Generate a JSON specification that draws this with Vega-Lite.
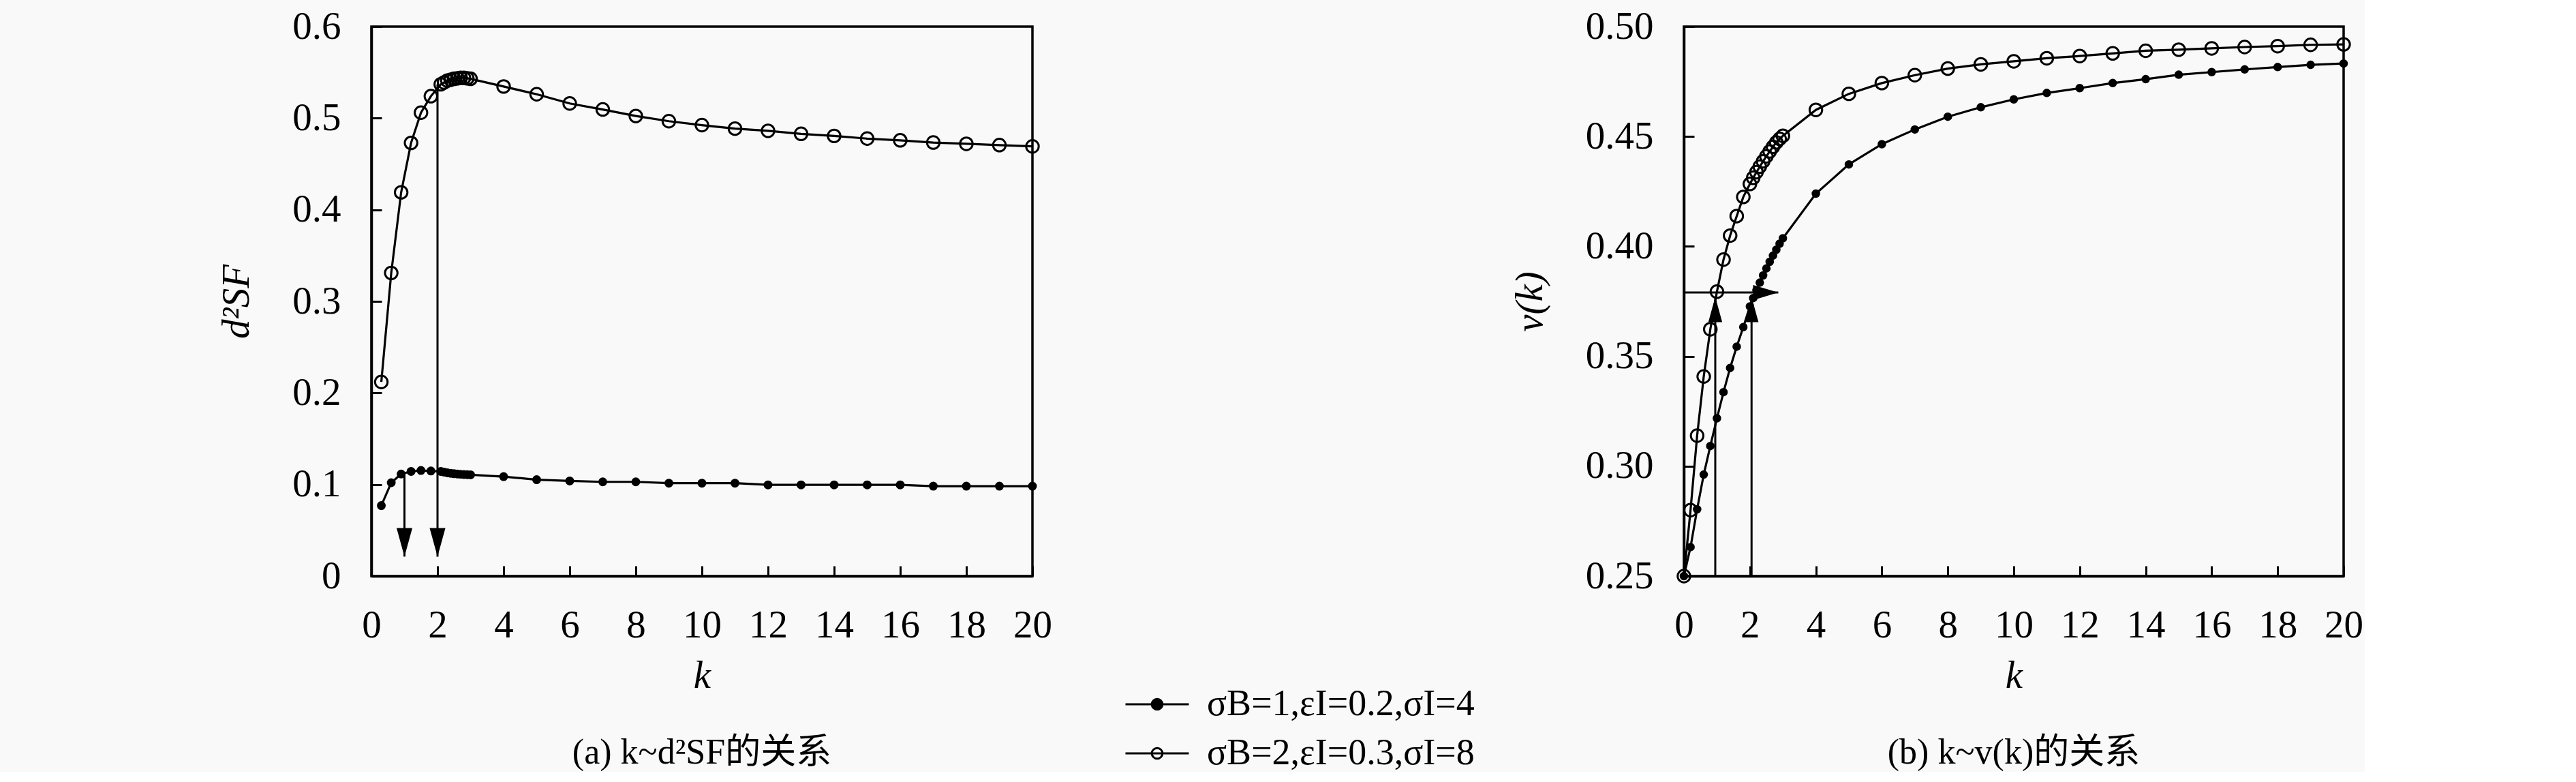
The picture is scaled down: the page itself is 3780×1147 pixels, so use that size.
{
  "$schema": "https://vega.github.io/schema/vega-lite/v6.json",
  "background": "#f9f9f9",
  "padding": {"left": 317, "top": 8, "right": 0, "bottom": 0},
  "spacing": 668,
  "datasets": {
    "a": [
      {"k": 0.3, "A": 0.077, "B": 0.212},
      {"k": 0.6, "A": 0.102, "B": 0.331},
      {"k": 0.9, "A": 0.1115, "B": 0.419},
      {"k": 1.2, "A": 0.1143, "B": 0.473},
      {"k": 1.5, "A": 0.1153, "B": 0.506},
      {"k": 1.8, "A": 0.1148, "B": 0.524},
      {"k": 2.1, "A": 0.1143, "B": 0.537},
      {"k": 2.2, "A": 0.1135, "B": 0.539},
      {"k": 2.3, "A": 0.1128, "B": 0.541},
      {"k": 2.4, "A": 0.1122, "B": 0.542},
      {"k": 2.5, "A": 0.1118, "B": 0.543},
      {"k": 2.6, "A": 0.1115, "B": 0.5435},
      {"k": 2.7, "A": 0.1112, "B": 0.544},
      {"k": 2.8, "A": 0.111, "B": 0.544},
      {"k": 2.9, "A": 0.1108, "B": 0.5435},
      {"k": 3.0, "A": 0.1106, "B": 0.543},
      {"k": 4, "A": 0.1086, "B": 0.5346},
      {"k": 5, "A": 0.1053, "B": 0.5261},
      {"k": 6, "A": 0.1039, "B": 0.5161},
      {"k": 7, "A": 0.1029, "B": 0.5095},
      {"k": 8, "A": 0.1029, "B": 0.5024},
      {"k": 9, "A": 0.1015, "B": 0.4967},
      {"k": 10, "A": 0.1015, "B": 0.4924},
      {"k": 11, "A": 0.1015, "B": 0.4886},
      {"k": 12, "A": 0.0996, "B": 0.4862},
      {"k": 13, "A": 0.0996, "B": 0.4829},
      {"k": 14, "A": 0.0996, "B": 0.4806},
      {"k": 15, "A": 0.0996, "B": 0.4777},
      {"k": 16, "A": 0.0996, "B": 0.4758},
      {"k": 17, "A": 0.0982, "B": 0.4734},
      {"k": 18, "A": 0.0982, "B": 0.472},
      {"k": 19, "A": 0.0982, "B": 0.4706},
      {"k": 20, "A": 0.0982, "B": 0.4692}
    ],
    "b": [
      {"k": 0, "A": 0.25, "B": 0.25},
      {"k": 0.2, "A": 0.2632, "B": 0.28},
      {"k": 0.4, "A": 0.2804, "B": 0.3139},
      {"k": 0.6, "A": 0.2962, "B": 0.3408},
      {"k": 0.8, "A": 0.3092, "B": 0.3623},
      {"k": 1.0, "A": 0.3218, "B": 0.3794},
      {"k": 1.2, "A": 0.3337, "B": 0.394},
      {"k": 1.4, "A": 0.3447, "B": 0.4049},
      {"k": 1.6, "A": 0.3544, "B": 0.4138},
      {"k": 1.8, "A": 0.3633, "B": 0.4225},
      {"k": 2.0, "A": 0.3727, "B": 0.4284},
      {"k": 2.1, "A": 0.3765, "B": 0.4312},
      {"k": 2.2, "A": 0.38, "B": 0.4338},
      {"k": 2.3, "A": 0.3835, "B": 0.4363},
      {"k": 2.4, "A": 0.3868, "B": 0.4387},
      {"k": 2.5, "A": 0.39, "B": 0.441},
      {"k": 2.6, "A": 0.393, "B": 0.4432},
      {"k": 2.7, "A": 0.3958, "B": 0.4453},
      {"k": 2.8, "A": 0.3985, "B": 0.4473},
      {"k": 2.9, "A": 0.4012, "B": 0.4489},
      {"k": 3.0, "A": 0.4037, "B": 0.4503},
      {"k": 4, "A": 0.424, "B": 0.4621},
      {"k": 5, "A": 0.4373, "B": 0.4694},
      {"k": 6, "A": 0.4465, "B": 0.4743},
      {"k": 7, "A": 0.4532, "B": 0.4779},
      {"k": 8, "A": 0.459, "B": 0.4809},
      {"k": 9, "A": 0.4633, "B": 0.4828},
      {"k": 10, "A": 0.4669, "B": 0.4842},
      {"k": 11, "A": 0.4698, "B": 0.4856},
      {"k": 12, "A": 0.472, "B": 0.4866},
      {"k": 13, "A": 0.4743, "B": 0.4878},
      {"k": 14, "A": 0.4761, "B": 0.489},
      {"k": 15, "A": 0.4781, "B": 0.4895},
      {"k": 16, "A": 0.4793, "B": 0.4901},
      {"k": 17, "A": 0.4805, "B": 0.4907},
      {"k": 18, "A": 0.4816, "B": 0.4911},
      {"k": 19, "A": 0.4826, "B": 0.4917},
      {"k": 20, "A": 0.4832, "B": 0.4919}
    ],
    "arrA": [
      {"k": 1, "y": 0.112, "y2": 0.0213},
      {"k": 2, "y": 0.537, "y2": 0.0213}
    ],
    "arrBv": [
      {"k": 0.95, "y": 0.25, "y2": 0.377},
      {"k": 2.05, "y": 0.25, "y2": 0.377}
    ],
    "arrBh": [
      {"k": 0, "k2": 2.86, "y": 0.379}
    ]
  },
  "hconcat": [
    {
      "width": 970,
      "height": 806,
      "title": {"text": "(a) k~d²SF的关系", "orient": "bottom"},
      "layer": [
        {
          "data": {"name": "a"},
          "transform": [{"fold": ["A", "B"], "as": ["s", "y"]}],
          "mark": {"type": "line", "stroke": "black", "strokeWidth": 3.2},
          "encoding": {
            "x": {"field": "k", "type": "quantitative", "title": "k", "scale": {"domain": [0, 20], "nice": false}, "axis": {"values": [0, 2, 4, 6, 8, 10, 12, 14, 16, 18, 20]}},
            "y": {"field": "y", "type": "quantitative", "title": "d²SF", "scale": {"domain": [0, 0.6], "nice": false}, "axis": {"values": [0, 0.1, 0.2, 0.3, 0.4, 0.5, 0.6], "format": ".1~f"}},
            "detail": {"field": "s"}
          }
        },
        {
          "data": {"name": "a"},
          "transform": [{"fold": ["A", "B"], "as": ["s", "y"]}, {"filter": "datum.s == 'A'"}],
          "mark": {"type": "point", "shape": "circle", "filled": true, "stroke": "black", "strokeWidth": 2.5, "opacity": 1, "size": 110},
          "encoding": {
            "x": {"field": "k", "type": "quantitative", "title": "k"},
            "y": {"field": "y", "type": "quantitative", "title": "d²SF"},
            "fill": {"field": "s", "type": "nominal", "scale": {"domain": ["A", "B"], "range": ["black", "transparent"]},
              "legend": {"title": null, "orient": "none", "legendX": 1126, "legendY": 967, "labelExpr": "datum.value == 'A' ? 'σB=1,εI=0.2,σI=4' : 'σB=2,εI=0.3,σI=8'"}}
          }
        },
        {
          "data": {"name": "a"},
          "transform": [{"fold": ["A", "B"], "as": ["s", "y"]}, {"filter": "datum.s == 'B'"}],
          "mark": {"type": "point", "shape": "circle", "filled": true, "stroke": "black", "strokeWidth": 3, "opacity": 1, "size": 340},
          "encoding": {
            "x": {"field": "k", "type": "quantitative", "title": "k"},
            "y": {"field": "y", "type": "quantitative", "title": "d²SF"},
            "fill": {"field": "s", "type": "nominal", "scale": {"domain": ["A", "B"], "range": ["black", "transparent"]},
              "legend": {"title": null, "orient": "none", "legendX": 1126, "legendY": 967, "labelExpr": "datum.value == 'A' ? 'σB=1,εI=0.2,σI=4' : 'σB=2,εI=0.3,σI=8'"}}
          }
        },
        {
          "data": {"name": "arrA"},
          "mark": {"type": "rule", "stroke": "black", "strokeWidth": 3},
          "encoding": {
            "x": {"field": "k", "type": "quantitative", "title": "k"},
            "y": {"field": "y", "type": "quantitative", "title": "d²SF"},
            "y2": {"field": "y2"}
          }
        },
        {
          "data": {"name": "arrA"},
          "mark": {"type": "point", "shape": "M-0.55,-2L0.55,-2L0,0Z", "size": 1764, "filled": true, "fill": "black", "strokeWidth": 0, "opacity": 1},
          "encoding": {
            "x": {"field": "k", "type": "quantitative", "title": "k"},
            "y": {"field": "y2", "type": "quantitative", "title": "d²SF"}
          }
        }
      ]
    },
    {
      "width": 968,
      "height": 806,
      "title": {"text": "(b) k~v(k)的关系", "orient": "bottom"},
      "layer": [
        {
          "data": {"name": "b"},
          "transform": [{"fold": ["A", "B"], "as": ["s", "y"]}],
          "mark": {"type": "line", "stroke": "black", "strokeWidth": 3.2},
          "encoding": {
            "x": {"field": "k", "type": "quantitative", "title": "k", "scale": {"domain": [0, 20], "nice": false}, "axis": {"values": [0, 2, 4, 6, 8, 10, 12, 14, 16, 18, 20]}},
            "y": {"field": "y", "type": "quantitative", "title": "v(k)", "scale": {"domain": [0.25, 0.5], "nice": false}, "axis": {"values": [0.25, 0.3, 0.35, 0.4, 0.45, 0.5], "format": ".2f"}},
            "detail": {"field": "s"}
          }
        },
        {
          "data": {"name": "b"},
          "transform": [{"fold": ["A", "B"], "as": ["s", "y"]}, {"filter": "datum.s == 'B'"}],
          "mark": {"type": "point", "shape": "circle", "filled": true, "stroke": "black", "strokeWidth": 3, "opacity": 1, "size": 340},
          "encoding": {
            "x": {"field": "k", "type": "quantitative", "title": "k"},
            "y": {"field": "y", "type": "quantitative", "title": "v(k)"},
            "fill": {"field": "s", "type": "nominal", "scale": {"domain": ["A", "B"], "range": ["black", "transparent"]},
              "legend": {"title": null, "orient": "none", "legendX": 1126, "legendY": 967, "labelExpr": "datum.value == 'A' ? 'σB=1,εI=0.2,σI=4' : 'σB=2,εI=0.3,σI=8'"}}
          }
        },
        {
          "data": {"name": "b"},
          "transform": [{"fold": ["A", "B"], "as": ["s", "y"]}, {"filter": "datum.s == 'A'"}],
          "mark": {"type": "point", "shape": "circle", "filled": true, "stroke": "black", "strokeWidth": 2.5, "opacity": 1, "size": 100},
          "encoding": {
            "x": {"field": "k", "type": "quantitative", "title": "k"},
            "y": {"field": "y", "type": "quantitative", "title": "v(k)"},
            "fill": {"field": "s", "type": "nominal", "scale": {"domain": ["A", "B"], "range": ["black", "transparent"]},
              "legend": {"title": null, "orient": "none", "legendX": 1126, "legendY": 967, "labelExpr": "datum.value == 'A' ? 'σB=1,εI=0.2,σI=4' : 'σB=2,εI=0.3,σI=8'"}}
          }
        },
        {
          "data": {"name": "arrBv"},
          "mark": {"type": "rule", "stroke": "black", "strokeWidth": 3},
          "encoding": {
            "x": {"field": "k", "type": "quantitative", "title": "k"},
            "y": {"field": "y", "type": "quantitative", "title": "v(k)"},
            "y2": {"field": "y2"}
          }
        },
        {
          "data": {"name": "arrBv"},
          "mark": {"type": "point", "shape": "M-0.55,2L0.55,2L0,0Z", "size": 1369, "filled": true, "fill": "black", "strokeWidth": 0, "opacity": 1},
          "encoding": {
            "x": {"field": "k", "type": "quantitative", "title": "k"},
            "y": {"field": "y2", "type": "quantitative", "title": "v(k)"}
          }
        },
        {
          "data": {"name": "arrBh"},
          "mark": {"type": "rule", "stroke": "black", "strokeWidth": 3},
          "encoding": {
            "x": {"field": "k", "type": "quantitative", "title": "k"},
            "x2": {"field": "k2"},
            "y": {"field": "y", "type": "quantitative", "title": "v(k)"}
          }
        },
        {
          "data": {"name": "arrBh"},
          "mark": {"type": "point", "shape": "M-2,-0.6L-2,0.6L0,0Z", "size": 1369, "filled": true, "fill": "black", "strokeWidth": 0, "opacity": 1},
          "encoding": {
            "x": {"field": "k2", "type": "quantitative", "title": "k"},
            "y": {"field": "y", "type": "quantitative", "title": "v(k)"}
          }
        }
      ]
    }
  ],
  "resolve": {"scale": {"fill": "shared"}, "legend": {"fill": "shared"}},
  "config": {
    "font": "Liberation Serif",
    "view": {"stroke": "black", "strokeWidth": 3.5},
    "axis": {
      "grid": false,
      "domainColor": "black",
      "domainWidth": 3.5,
      "tickColor": "black",
      "tickWidth": 3,
      "tickSize": -15,
      "labelFont": "Liberation Serif",
      "labelFontSize": 57,
      "labelColor": "black",
      "labelFlush": false,
      "labelOverlap": false,
      "labelBound": false,
      "titleFont": "Liberation Serif",
      "titleFontSize": 57,
      "titleFontWeight": "normal",
      "titleFontStyle": "italic",
      "titleColor": "black"
    },
    "axisX": {"titlePadding": 18, "labelPadding": 59},
    "axisY": {"titlePadding": 52, "labelPadding": 60},
    "title": {
      "font": "Liberation Serif, Noto Sans CJK SC",
      "fontSize": 52,
      "fontWeight": "normal",
      "color": "black",
      "offset": 60
    },
    "legend": {
      "padding": 0,
      "rowPadding": 18,
      "symbolType": "M-2.5,0L2.5,0M-0.42,0A0.42,0.42,0,1,0,0.42,0A0.42,0.42,0,1,0,-0.42,0Z",
      "symbolSize": 1384,
      "symbolStrokeColor": "black",
      "symbolStrokeWidth": 3,
      "labelFont": "Liberation Serif",
      "labelFontSize": 54,
      "labelColor": "black",
      "labelOffset": 46,
      "labelLimit": 0
    }
  }
}
